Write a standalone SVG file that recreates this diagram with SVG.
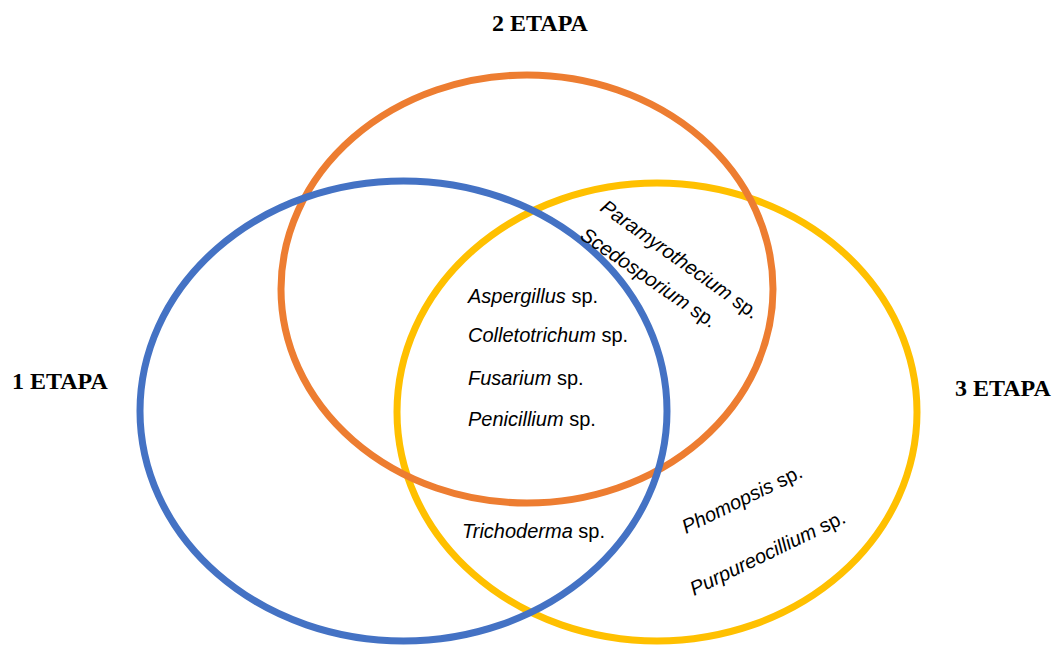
<svg xmlns="http://www.w3.org/2000/svg" width="1061" height="648" viewBox="0 0 1061 648">
<style>
.c{fill:none;stroke-width:7}
.lab{font-family:"Liberation Serif",serif;font-weight:bold;font-size:24px;fill:#000}
.sp{font-family:"Liberation Sans",Arial,sans-serif;font-size:20px;fill:#000}
.g{font-style:italic}
</style>
<rect width="1061" height="648" fill="#fff"/>
<g id="sets">
<ellipse id="etapa3" class="c" cx="657" cy="412" rx="260" ry="229" stroke="#FFC000"/>
<ellipse id="etapa2" class="c" cx="527" cy="289" rx="246" ry="214" stroke="#ED7D31"/>
<ellipse id="etapa1" class="c" cx="403.5" cy="411" rx="263.5" ry="230" stroke="#4472C4"/>
</g>
<g id="labels">
<text class="lab" x="540" y="31" text-anchor="middle">2 ETAPA</text>
<text class="lab" x="12" y="389">1 ETAPA</text>
<text class="lab" x="955" y="396">3 ETAPA</text>
</g>
<g id="species">
<text class="sp" x="468" y="303"><tspan class="g">Aspergillus</tspan> sp.</text>
<text class="sp" x="468" y="342"><tspan class="g">Colletotrichum</tspan> sp.</text>
<text class="sp" x="468" y="385"><tspan class="g">Fusarium</tspan> sp.</text>
<text class="sp" x="468" y="426"><tspan class="g">Penicillium</tspan> sp.</text>
<text class="sp" x="462" y="538"><tspan class="g">Trichoderma</tspan> sp.</text>
<text class="sp" transform="translate(599,210) rotate(35.5)"><tspan class="g">Paramyrothecium</tspan> sp.</text>
<text class="sp" transform="translate(579,238) rotate(34.5)"><tspan class="g">Scedosporium</tspan> sp.</text>
<text class="sp" transform="translate(686,534) rotate(-26)"><tspan class="g">Phomopsis</tspan> sp.</text>
<text class="sp" transform="translate(694,596) rotate(-25.8)"><tspan class="g">Purpureocillium</tspan> sp.</text>
</g>
</svg>
